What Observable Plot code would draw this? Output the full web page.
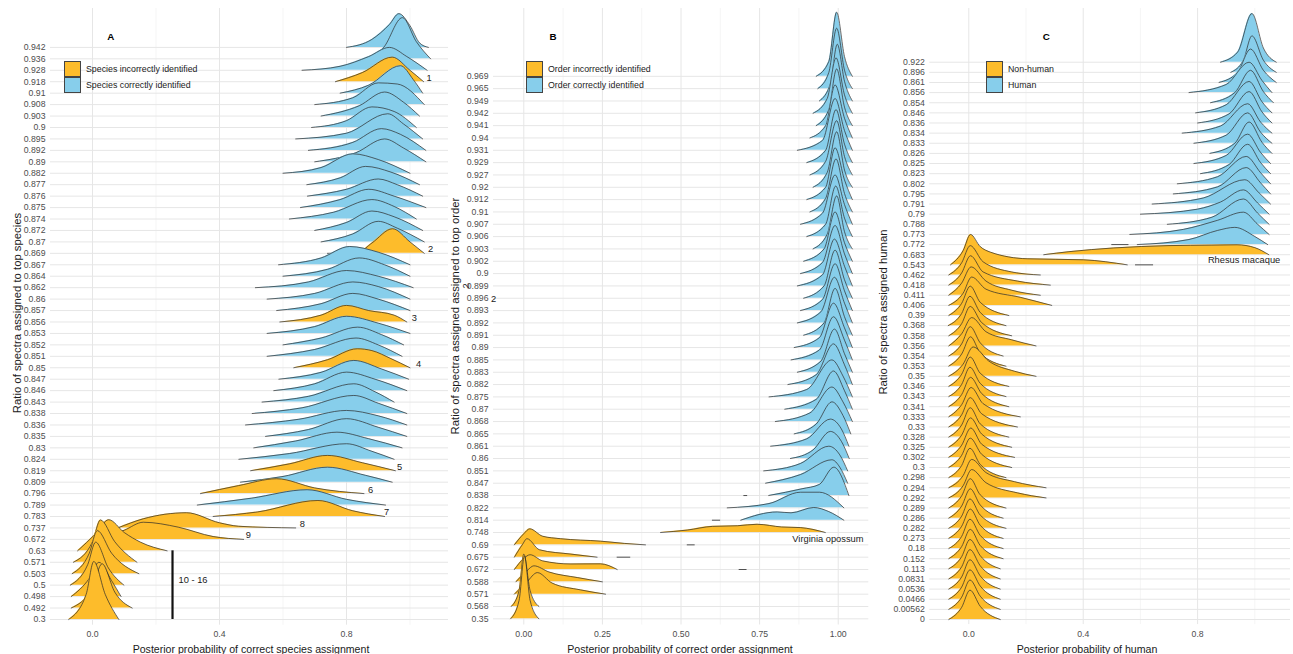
<!DOCTYPE html>
<html><head><meta charset="utf-8">
<script src="https://cdn.jsdelivr.net/npm/d3@7"></script>
<script src="https://cdn.jsdelivr.net/npm/@observablehq/plot@0.6"></script>
<style>
body{margin:0;background:#fff;font-family:"Liberation Sans",Arial,sans-serif;}
#wrap{position:relative;width:1293px;height:654px;overflow:hidden;}
#wrap svg{position:absolute;top:0;}
.t{position:absolute;white-space:nowrap;line-height:1;color:#1a1a1a;}
.c{transform:translate(-50%,-50%);}
.r{transform:translate(-50%,-50%) rotate(-90deg);}
.sw{position:absolute;width:15px;height:14px;border:1px solid #444;}
</style></head><body><div id="wrap"></div>
<script>
// ---------- Panel A: species ----------
const labelsA = ["0.942","0.936","0.928","0.918","0.91","0.908","0.903","0.9","0.895","0.892","0.89","0.882","0.877","0.876","0.875","0.874","0.872","0.87","0.869","0.867","0.864","0.862","0.86","0.857","0.856","0.853","0.852","0.851","0.85","0.847","0.846","0.843","0.838","0.836","0.835","0.83","0.824","0.819","0.809","0.796","0.789","0.783","0.737","0.672","0.63","0.571","0.503","0.5","0.498","0.492","0.3"];
const correctA = [1,1,1,0,1,1,1,1,1,1,1,1,1,1,1,1,1,1,0,1,1,1,1,1,0,1,1,1,0,1,1,1,1,1,1,1,1,0,1,0,1,0,0,0,0,0,0,0,0,0,0];
// density outlines: [x, height, x, height, ...]
const ridgesA = [
 [0.80,0, 0.88,0.7, 0.935,2.0, 0.965,2.95, 1.00,1.9, 1.03,0.4, 1.058,0],
 [0.86,0, 0.917,1.0, 0.976,3.6, 1.02,1.5, 1.065,0],
 [0.66,0, 0.78,0.35, 0.87,1.2, 0.935,2.0, 0.99,1.2, 1.054,0],
 [0.765,0, 0.85,0.8, 0.944,2.15, 1.0,1.0, 1.043,0],
 [0.78,0, 0.87,0.7, 0.97,2.4, 1.01,1.2, 1.04,0],
 [0.70,0, 0.82,0.6, 0.90,1.9, 0.96,1.8, 1.045,0],
 [0.72,0, 0.84,0.9, 0.92,2.1, 0.98,1.2, 1.03,0],
 [0.69,0, 0.80,0.6, 0.88,1.8, 0.95,1.4, 1.02,0],
 [0.64,0, 0.80,0.5, 0.93,2.2, 0.98,1.3, 1.04,0],
 [0.68,0, 0.82,0.7, 0.91,1.9, 0.97,1.4, 1.05,0],
 [0.70,0, 0.83,0.8, 0.92,2.0, 0.98,1.2, 1.05,0],
 [0.60,0, 0.72,0.5, 0.82,1.7, 0.90,1.2, 1.00,0],
 [0.675,0, 0.78,0.6, 0.86,1.6, 0.94,1.1, 1.03,0],
 [0.677,0, 0.80,0.6, 0.90,1.5, 0.96,1.0, 1.04,0],
 [0.655,0, 0.78,0.7, 0.87,1.6, 0.95,1.0, 1.05,0],
 [0.62,0, 0.76,0.6, 0.88,1.7, 0.95,1.1, 1.02,0],
 [0.70,0, 0.80,0.7, 0.88,1.7, 0.95,1.2, 1.04,0],
 [0.72,0, 0.82,0.7, 0.90,1.8, 0.96,1.2, 1.045,0],
 [0.74,0, 0.84,0.15, 0.88,0.9, 0.945,2.15, 1.0,1.0, 1.045,0],
 [0.586,0, 0.72,0.6, 0.81,1.6, 0.90,1.1, 1.0,0],
 [0.60,0, 0.74,0.6, 0.84,1.6, 0.92,1.0, 1.0,0],
 [0.513,0, 0.68,0.5, 0.80,1.5, 0.90,1.0, 1.01,0],
 [0.55,0, 0.70,0.5, 0.82,1.5, 0.90,1.1, 1.0,0],
 [0.58,0, 0.72,0.6, 0.82,1.5, 0.90,1.0, 1.0,0],
 [0.59,0, 0.72,0.6, 0.80,1.45, 0.87,1.0, 0.95,0.6, 0.99,0],
 [0.55,0, 0.70,0.6, 0.80,1.5, 0.90,0.9, 1.0,0],
 [0.60,0, 0.72,0.6, 0.835,1.55, 0.91,0.9, 0.98,0],
 [0.55,0, 0.70,0.6, 0.83,1.6, 0.90,1.0, 0.975,0],
 [0.634,0, 0.74,0.7, 0.834,1.66, 0.88,1.5, 0.94,0.8, 1.0,0],
 [0.587,0, 0.72,0.6, 0.823,1.64, 0.91,0.9, 0.996,0],
 [0.571,0, 0.70,0.6, 0.80,1.62, 0.89,1.0, 0.99,0],
 [0.534,0, 0.68,0.5, 0.823,1.6, 0.89,0.9, 0.95,0],
 [0.503,0, 0.66,0.5, 0.823,1.58, 0.90,0.9, 0.99,0],
 [0.482,0, 0.65,0.5, 0.80,1.27, 0.90,0.8, 0.99,0],
 [0.545,0, 0.68,0.6, 0.80,1.55, 0.90,0.8, 0.99,0],
 [0.508,0, 0.64,0.6, 0.77,1.37, 0.87,0.8, 0.975,0],
 [0.461,0, 0.62,0.5, 0.80,1.36, 0.88,0.7, 0.95,0],
 [0.498,0, 0.62,0.6, 0.74,1.34, 0.85,0.7, 0.954,0],
 [0.466,0, 0.60,0.5, 0.74,1.31, 0.86,0.6, 0.944,0],
 [0.34,0, 0.46,0.7, 0.58,1.3, 0.70,0.5, 0.855,0],
 [0.33,0, 0.50,0.6, 0.676,1.34, 0.80,0.5, 0.923,0],
 [0.38,0, 0.52,0.4, 0.71,1.4, 0.82,0.5, 0.92,0],
 [0.08,0, 0.16,0.8, 0.296,1.33, 0.40,0.45, 0.46,0.15, 0.55,0.05, 0.64,0],
 [0.02,0, 0.10,0.8, 0.16,1.5, 0.27,1.07, 0.38,0.25, 0.476,0],
 [-0.047,0, 0.01,1.5, 0.051,2.72, 0.10,1.6, 0.151,0.76, 0.235,0],
 [-0.06,0, 0.0,1.8, 0.025,3.7, 0.07,1.8, 0.14,0],
 [-0.064,0, -0.01,1.8, 0.015,3.77, 0.06,1.8, 0.146,0],
 [-0.07,0, -0.015,1.8, 0.01,3.76, 0.05,1.5, 0.099,0],
 [-0.067,0, -0.01,1.6, 0.02,3.0, 0.06,1.4, 0.09,0],
 [-0.067,0, 0.0,1.8, 0.03,3.87, 0.07,1.4, 0.125,0],
 [-0.075,0, -0.02,2.2, 0.004,5.07, 0.04,2.2, 0.083,0]
];
const noteTextA = ["1","2","3","4","5","6","7","8","9"];
const noteRowA = ["0.918","0.869","0.856","0.85","0.819","0.796","0.783","0.737","0.672"];
const noteXA = [1.06,1.065,1.014,1.027,0.967,0.876,0.926,0.661,0.491];
const groupA = {text:"10 - 16", x:0.252, textX:0.271, from:"0.63", to:"0.3"};

// ---------- Panel B: order ----------
const labelsB = ["0.969","0.965","0.949","0.942","0.941","0.94","0.931","0.929","0.927","0.92","0.912","0.91","0.907","0.906","0.903","0.902","0.9","0.899","0.896","0.893","0.892","0.891","0.89","0.885","0.883","0.882","0.875","0.87","0.868","0.865","0.861","0.86","0.851","0.847","0.838","0.822","0.814","0.748","0.69","0.675","0.672","0.588","0.571","0.568","0.35"];
const correctB = [1,1,1,1,1,1,1,1,1,1,1,1,1,1,1,1,1,1,1,1,1,1,1,1,1,1,1,1,1,1,1,1,1,1,1,1,1,0,0,0,0,0,0,0,0];
const ridgesB = [
 [0.93,0, 0.97,1.2, 0.995,5.2, 1.02,1.6, 1.045,0],
 [0.935,0, 0.97,1.3, 0.995,4.9, 1.02,1.5, 1.045,0],
 [0.94,0, 0.975,1.4, 0.997,4.6, 1.02,1.6, 1.045,0],
 [0.92,0, 0.965,1.2, 0.993,4.5, 1.02,1.5, 1.045,0],
 [0.93,0, 0.97,1.3, 0.995,4.6, 1.02,1.5, 1.045,0],
 [0.91,0, 0.96,1.0, 0.99,4.3, 1.02,1.6, 1.045,0],
 [0.87,0, 0.95,0.8, 0.99,4.2, 1.02,1.6, 1.045,0],
 [0.90,0, 0.96,1.0, 0.993,4.3, 1.02,1.5, 1.045,0],
 [0.91,0, 0.96,1.1, 0.995,4.4, 1.02,1.5, 1.045,0],
 [0.92,0, 0.965,1.2, 0.995,4.5, 1.02,1.4, 1.045,0],
 [0.90,0, 0.96,1.0, 0.99,4.2, 1.02,1.6, 1.045,0],
 [0.91,0, 0.96,1.1, 0.993,4.3, 1.02,1.5, 1.045,0],
 [0.88,0, 0.95,0.9, 0.99,4.0, 1.02,1.6, 1.045,0],
 [0.90,0, 0.96,1.0, 0.992,4.1, 1.02,1.5, 1.045,0],
 [0.92,0, 0.965,1.2, 0.995,4.3, 1.02,1.4, 1.045,0],
 [0.89,0, 0.955,1.0, 0.99,4.0, 1.02,1.5, 1.045,0],
 [0.88,0, 0.95,0.9, 0.99,3.9, 1.02,1.6, 1.045,0],
 [0.87,0, 0.95,0.9, 0.988,3.8, 1.02,1.6, 1.045,0],
 [0.89,0, 0.955,1.0, 0.99,3.9, 1.02,1.5, 1.045,0],
 [0.88,0, 0.95,0.9, 0.99,3.8, 1.02,1.6, 1.045,0],
 [0.87,0, 0.945,0.9, 0.988,3.7, 1.02,1.6, 1.045,0],
 [0.89,0, 0.955,1.0, 0.99,3.8, 1.02,1.5, 1.045,0],
 [0.86,0, 0.94,0.8, 0.985,3.6, 1.02,1.6, 1.045,0],
 [0.85,0, 0.94,0.8, 0.985,3.5, 1.02,1.6, 1.045,0],
 [0.87,0, 0.945,0.9, 0.988,3.5, 1.02,1.5, 1.045,0],
 [0.84,0, 0.93,0.8, 0.985,3.3, 1.02,1.6, 1.045,0],
 [0.78,0, 0.90,0.6, 0.98,3.0, 1.015,1.7, 1.045,0],
 [0.83,0, 0.93,0.8, 0.985,3.1, 1.02,1.5, 1.045,0],
 [0.80,0, 0.91,0.7, 0.98,2.8, 1.015,1.6, 1.045,0],
 [0.86,0, 0.93,0.8, 0.98,2.6, 1.015,1.5, 1.04,0],
 [0.785,0, 0.90,0.6, 0.975,2.2, 1.01,1.4, 1.034,0],
 [0.848,0, 0.92,0.7, 0.975,2.2, 1.01,1.4, 1.035,0],
 [0.763,0, 0.88,0.6, 0.97,2.0, 1.005,1.3, 1.03,0],
 [0.769,0, 0.88,0.7, 0.98,1.9, 1.005,1.3, 1.03,0],
 [0.779,0, 0.885,0.55, 0.94,0.9, 0.986,2.3, 1.034,0],
 [0.647,0, 0.78,0.35, 0.88,1.27, 0.94,1.27, 1.018,0],
 [0.69,0, 0.806,0.67, 0.85,0.6, 0.922,1.03, 0.97,0.7, 1.018,0],
 [0.435,0, 0.52,0.2, 0.60,0.5, 0.68,0.55, 0.742,0.67, 0.82,0.45, 0.88,0.4, 0.959,0],
 [-0.03,0, 0.0,0.9, 0.019,1.3, 0.06,0.7, 0.117,0.5, 0.244,0.3, 0.32,0.12, 0.387,0],
 [-0.03,0, -0.005,1.0, 0.01,1.5, 0.05,0.6, 0.15,0.25, 0.233,0],
 [-0.03,0, 0.0,0.9, 0.02,1.2, 0.06,0.7, 0.15,0.45, 0.244,0.46, 0.297,0],
 [-0.025,0, 0.01,0.9, 0.032,1.3, 0.08,0.8, 0.17,0.35, 0.25,0],
 [-0.03,0, 0.01,1.0, 0.043,1.75, 0.09,0.9, 0.18,0.35, 0.26,0],
 [-0.04,0, -0.015,1.3, 0.0,4.25, 0.02,1.3, 0.048,0],
 [-0.042,0, -0.015,1.5, 0.002,5.1, 0.02,1.5, 0.048,0]
];
const dashesB = [["0.814",0.60,0.626],["0.838",0.70,0.712],["0.69",0.52,0.545],["0.675",0.297,0.34],["0.672",0.685,0.71]];

// ---------- Panel C: human ----------
const labelsC = ["0.922","0.896","0.861","0.856","0.854","0.846","0.836","0.834","0.833","0.826","0.825","0.823","0.802","0.795","0.791","0.79","0.788","0.773","0.772","0.683","0.543","0.462","0.418","0.411","0.406","0.39","0.368","0.358","0.356","0.354","0.353","0.35","0.346","0.343","0.341","0.333","0.33","0.328","0.325","0.302","0.3","0.298","0.294","0.292","0.289","0.286","0.282","0.273","0.18","0.152","0.113","0.0831","0.0536","0.0466","0.00562","0"];
const humanC = [1,1,1,1,1,1,1,1,1,1,1,1,1,1,1,1,1,1,1,0,0,0,0,0,0,0,0,0,0,0,0,0,0,0,0,0,0,0,0,0,0,0,0,0,0,0,0,0,0,0,0,0,0,0,0,0];
const ridgesC = [
 [0.88,0, 0.94,1.0, 0.99,4.8, 1.03,1.4, 1.075,0],
 [0.916,0, 0.96,1.2, 0.99,3.6, 1.03,1.2, 1.075,0],
 [0.875,0, 0.94,1.0, 0.985,3.3, 1.03,1.2, 1.075,0],
 [0.77,0, 0.90,0.8, 0.98,3.0, 1.025,1.2, 1.06,0],
 [0.845,0, 0.93,1.0, 0.985,3.2, 1.03,1.1, 1.065,0],
 [0.793,0, 0.90,0.8, 0.98,3.1, 1.025,1.1, 1.06,0],
 [0.80,0, 0.91,0.9, 0.98,3.1, 1.025,1.1, 1.06,0],
 [0.746,0, 0.88,0.7, 0.975,2.9, 1.02,1.1, 1.06,0],
 [0.787,0, 0.90,0.8, 0.975,3.0, 1.02,1.1, 1.06,0],
 [0.843,0, 0.93,1.0, 0.98,3.1, 1.025,1.1, 1.06,0],
 [0.787,0, 0.90,0.8, 0.975,2.9, 1.02,1.1, 1.055,0],
 [0.81,0, 0.91,0.9, 0.975,2.9, 1.02,1.1, 1.055,0],
 [0.729,0, 0.87,0.7, 0.97,2.7, 1.02,1.1, 1.055,0],
 [0.715,0, 0.87,0.7, 0.97,2.6, 1.02,1.1, 1.055,0],
 [0.641,0, 0.82,0.6, 0.965,2.4, 1.015,1.1, 1.055,0],
 [0.60,0, 0.80,0.5, 0.88,1.2, 0.96,2.4, 1.01,1.1, 1.05,0],
 [0.694,0, 0.85,0.7, 0.96,2.5, 1.01,1.1, 1.05,0],
 [0.563,0, 0.75,0.5, 0.87,1.4, 0.96,2.2, 1.01,1.0, 1.05,0],
 [0.589,0, 0.77,0.5, 0.87,1.4, 0.93,1.7, 1.0,0.8, 1.045,0],
 [0.262,0, 0.35,0.3, 0.507,0.67, 0.70,0.9, 0.85,0.95, 0.938,0.98, 1.0,0.7, 1.049,0],
 [-0.064,0, -0.02,1.4, 0.006,3.0, 0.04,1.8, 0.076,1.25, 0.204,0.6, 0.40,0.5, 0.554,0],
 [-0.07,0, -0.025,1.2, 0.005,2.9, 0.05,1.3, 0.15,0.3, 0.25,0],
 [-0.07,0, -0.025,1.2, 0.006,2.9, 0.05,1.3, 0.17,0.4, 0.285,0],
 [-0.07,0, -0.025,1.2, 0.008,2.8, 0.06,1.4, 0.15,0.5, 0.25,0],
 [-0.07,0, -0.02,1.2, 0.01,2.8, 0.06,1.6, 0.18,0.8, 0.29,0],
 [-0.07,0, -0.025,1.2, 0.005,2.9, 0.04,1.3, 0.14,0],
 [-0.072,0, -0.025,1.2, 0.004,2.9, 0.04,1.3, 0.13,0],
 [-0.07,0, -0.025,1.2, 0.005,2.9, 0.045,1.3, 0.15,0],
 [-0.07,0, -0.025,1.2, 0.01,2.8, 0.06,1.4, 0.15,0.6, 0.235,0],
 [-0.07,0, -0.025,1.2, 0.005,2.9, 0.04,1.3, 0.12,0],
 [-0.07,0, -0.025,1.2, 0.006,2.9, 0.04,1.3, 0.13,0],
 [-0.07,0, -0.02,1.2, 0.015,2.9, 0.07,1.5, 0.16,0.5, 0.235,0],
 [-0.07,0, -0.025,1.2, 0.005,2.9, 0.04,1.3, 0.14,0],
 [-0.07,0, -0.025,1.2, 0.004,2.9, 0.04,1.3, 0.13,0],
 [-0.07,0, -0.025,1.2, 0.006,2.9, 0.045,1.3, 0.14,0],
 [-0.07,0, -0.025,1.2, 0.008,2.9, 0.05,1.3, 0.18,0],
 [-0.07,0, -0.025,1.2, 0.005,2.9, 0.045,1.3, 0.17,0],
 [-0.07,0, -0.025,1.2, 0.005,2.9, 0.04,1.3, 0.14,0],
 [-0.07,0, -0.025,1.2, 0.006,2.9, 0.045,1.3, 0.15,0],
 [-0.07,0, -0.025,1.2, 0.007,2.9, 0.045,1.3, 0.16,0],
 [-0.07,0, -0.025,1.2, 0.005,2.9, 0.045,1.3, 0.15,0],
 [-0.07,0, -0.025,1.2, 0.004,2.9, 0.04,1.3, 0.13,0],
 [-0.07,0, -0.02,1.2, 0.01,2.8, 0.06,1.5, 0.16,0.6, 0.27,0],
 [-0.07,0, -0.02,1.2, 0.01,2.8, 0.06,1.5, 0.17,0.5, 0.27,0],
 [-0.07,0, -0.025,1.2, 0.005,2.9, 0.04,1.3, 0.13,0],
 [-0.07,0, -0.025,1.2, 0.005,2.9, 0.04,1.3, 0.12,0],
 [-0.07,0, -0.025,1.2, 0.004,2.9, 0.04,1.3, 0.13,0],
 [-0.07,0, -0.025,1.2, 0.005,2.9, 0.04,1.3, 0.12,0],
 [-0.07,0, -0.025,1.2, 0.004,2.9, 0.04,1.3, 0.12,0],
 [-0.07,0, -0.025,1.2, 0.005,2.9, 0.04,1.3, 0.12,0],
 [-0.07,0, -0.025,1.2, 0.004,2.9, 0.04,1.3, 0.11,0],
 [-0.07,0, -0.025,1.2, 0.004,2.9, 0.04,1.3, 0.11,0],
 [-0.07,0, -0.025,1.2, 0.004,2.9, 0.04,1.3, 0.11,0],
 [-0.07,0, -0.025,1.2, 0.004,2.9, 0.04,1.3, 0.11,0],
 [-0.07,0, -0.025,1.2, 0.004,2.9, 0.04,1.3, 0.11,0],
 [-0.07,0, -0.025,1.2, 0.004,2.9, 0.04,1.3, 0.11,0]
];
const dashesC = [["0.772",0.50,0.56],["0.543",0.583,0.646]];

const ORANGE = "#FDBC2B", BLUE = "#87CEEB", LINE = "#2a2a2a";
const FONT = "Liberation Sans, Arial, sans-serif";

function panel(cfg) {
  const N = cfg.labels.length;
  const rowOf = l => N - 1 - cfg.labels.indexOf(l);
  const marks = [
    Plot.ruleX(cfg.gridMinor, {stroke: "#efefef", strokeWidth: 0.6}),
    Plot.ruleX(cfg.gridMajor, {stroke: "#e6e6e6", strokeWidth: 1}),
    Plot.ruleY(d3.range(N), {stroke: "#e6e6e6", strokeWidth: 1})
  ];
  cfg.ridges.forEach((flat, i) => {
    const base = N - 1 - i;
    const pts = [];
    for (let k = 0; k + 1 < flat.length; k += 2) pts.push({x: flat[k], b: base, t: base + flat[k + 1]});
    marks.push(Plot.areaY(pts, {x: "x", y1: "b", y2: "t", fill: cfg.cls[i] ? BLUE : ORANGE, curve: "monotone-x"}));
    marks.push(Plot.line(pts, {x: "x", y: "t", stroke: LINE, strokeWidth: 0.7, curve: "monotone-x"}));
  });
  if (cfg.dashes) marks.push(Plot.ruleY(cfg.dashes, {y: d => rowOf(d[0]), x1: d => d[1], x2: d => d[2], stroke: LINE, strokeWidth: 0.8}));
  if (cfg.extra) marks.push(...cfg.extra(rowOf));
  return Plot.plot({
    width: cfg.width, height: 654,
    marginTop: 8, marginBottom: cfg.marginBottom, marginLeft: cfg.marginLeft, marginRight: cfg.marginRight,
    x: {domain: cfg.xDomain, ticks: cfg.xTicks, tickFormat: cfg.xFormat, tickSize: 0, tickPadding: 6, label: null},
    y: {domain: cfg.yDomain, ticks: d3.range(N), tickFormat: v => cfg.labels[N - 1 - v], tickSize: 0, tickPadding: 5, label: null},
    style: {fontFamily: FONT, fontSize: "8.7px", color: "#4d4d4d", background: "transparent", overflow: "visible"},
    marks
  });
}

const wrap = document.getElementById("wrap");
function place(svg, left) { svg.style.left = left + "px"; wrap.appendChild(svg); }

place(panel({
  labels: labelsA, cls: correctA, ridges: ridgesA,
  width: 450, marginLeft: 50, marginRight: 2, marginBottom: 29.3,
  xDomain: [-0.1323, 1.1213], yDomain: [-0.5, 53.4],
  xTicks: [0, 0.4, 0.8], xFormat: d3.format(".1f"),
  gridMajor: [0, 0.4, 0.8], gridMinor: [0.2, 0.6, 1.0],
  extra: rowOf => [
    Plot.text(noteTextA.map((t, i) => ({t, x: noteXA[i], y: rowOf(noteRowA[i])})), {x: "x", y: "y", text: "t", dy: -4, fontSize: 9.3, fill: "#1a1a1a"}),
    Plot.ruleX([groupA], {x: "x", y1: d => rowOf(d.from), y2: d => rowOf(d.to), stroke: "#111", strokeWidth: 2.2}),
    Plot.text([groupA], {x: "textX", y: d => (rowOf(d.from) + rowOf(d.to)) / 2, text: "text", textAnchor: "start", dy: -5, fontSize: 9.3, fill: "#1a1a1a"})
  ]
}), 0);

place(panel({
  labels: labelsB, cls: correctB, ridges: ridgesB, dashes: dashesB,
  width: 430, marginLeft: 53, marginRight: 1.7, marginBottom: 29.5,
  xDomain: [-0.0964, 1.0973], yDomain: [-0.5, 49.5],
  xTicks: [0, 0.25, 0.5, 0.75, 1], xFormat: d3.format(".2f"),
  gridMajor: [0, 0.25, 0.5, 0.75, 1], gridMinor: [0.125, 0.375, 0.625, 0.875],
  extra: rowOf => [
    Plot.text([{t: "Virginia opossum", x: 0.854, y: rowOf("0.748")}], {x: "x", y: "y", text: "t", textAnchor: "start", dy: 6, fontSize: 9.3, fill: "#1a1a1a"}),
    Plot.text([{t: "2", x: -0.104, y: rowOf("0.896")}], {x: "x", y: "y", text: "t", textAnchor: "start", dy: 1, fontSize: 9.3, fill: "#1a1a1a"}),
    Plot.text([{t: "2", x: -0.185, y: rowOf("0.899")}], {x: "x", y: "y", text: "t", rotate: -90, fontSize: 9.3, fill: "#1a1a1a"})
  ]
}), 440);

place(panel({
  labels: labelsC, cls: humanC, ridges: ridgesC, dashes: dashesC,
  width: 423, marginLeft: 59.3, marginRight: 3, marginBottom: 29.93,
  xDomain: [-0.1364, 1.1248], yDomain: [-0.5, 60.3],
  xTicks: [0, 0.4, 0.8], xFormat: d3.format(".1f"),
  gridMajor: [0, 0.4, 0.8], gridMinor: [0.2, 0.6, 1.0],
  extra: rowOf => [
    Plot.text([{t: "Rhesus macaque", x: 0.836, y: rowOf("0.683")}], {x: "x", y: "y", text: "t", textAnchor: "start", dy: 5, fontSize: 9.3, fill: "#1a1a1a"})
  ]
}), 870);

// ---------- overlay text: titles, axis titles, legends ----------
function txt(s, x, y, cls, size, extra) {
  const d = document.createElement("div");
  d.className = "t " + cls;
  d.textContent = s;
  d.style.left = x + "px"; d.style.top = y + "px"; d.style.fontSize = size + "px";
  if (extra) Object.assign(d.style, extra);
  wrap.appendChild(d);
}
function legend(x, labels) {
  [ORANGE, BLUE].forEach((col, i) => {
    const s = document.createElement("div");
    s.className = "sw"; s.style.left = x + "px"; s.style.top = (61 + i * 16) + "px"; s.style.background = col;
    wrap.appendChild(s);
    txt(labels[i], x + 22, 69 + i * 16, "", 8.8, {transform: "translateY(-50%)"});
  });
}
txt("A", 110.7, 37, "c", 9.8, {fontWeight: "bold", color: "#000"});
txt("B", 553, 37, "c", 9.8, {fontWeight: "bold", color: "#000"});
txt("C", 1046.3, 37, "c", 9.8, {fontWeight: "bold", color: "#000"});
legend(64, ["Species incorrectly identified", "Species correctly identified"]);
legend(526, ["Order incorrectly identified", "Order correctly identified"]);
legend(986, ["Non-human", "Human"]);
txt("Posterior probability of correct species assignment", 251, 649, "c", 10.6);
txt("Posterior probability of correct order assignment", 680, 649, "c", 10.6);
txt("Posterior probability of human", 1087, 649, "c", 10.6);
txt("Ratio of spectra assigned to top species", 18, 313, "r", 11.3);
txt("Ratio of spectra assigned assigned to top order", 456, 316, "r", 11.3);
txt("Ratio of spectra assigned human", 884, 312, "r", 11.3);
</script></body></html>
